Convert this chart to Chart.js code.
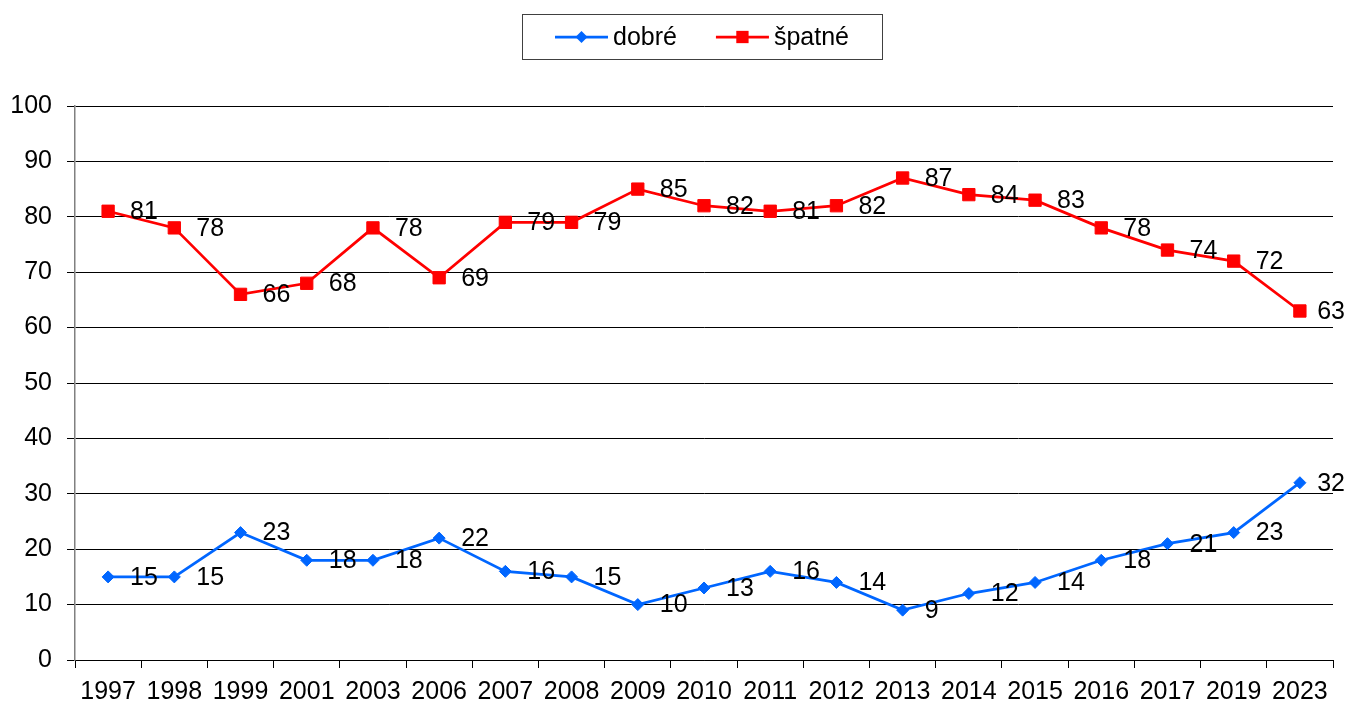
<!DOCTYPE html>
<html>
<head>
<meta charset="utf-8">
<script src="https://cdn.jsdelivr.net/npm/chart.js@4.4.1/dist/chart.umd.min.js"></script>
<style>
  body { margin: 0; background: #fff; }
  #wrap { width: 1347px; height: 702px; }
</style>
</head>
<body>
<div id="wrap"><canvas id="chart" width="1347" height="702"></canvas></div>
<script>
const years = ['1997', '1998', '1999', '2001', '2003', '2006', '2007', '2008', '2009', '2010',
               '2011', '2012', '2013', '2014', '2015', '2016', '2017', '2019', '2023'];
const dobre  = [15, 15, 23, 18, 18, 22, 16, 15, 10, 13, 16, 14, 9, 12, 14, 18, 21, 23, 32];
const spatne = [81, 78, 66, 68, 78, 69, 79, 79, 85, 82, 81, 82, 87, 84, 83, 78, 74, 72, 63];
const yMin = 0, yMax = 100, yStep = 10;

const FONT = '"Liberation Sans", Arial, sans-serif';
const BLUE = '#0066ff';
const RED = '#ff0000';

function drawMarker(ctx, style, x, y, r, color) {
  ctx.fillStyle = color;
  ctx.beginPath();
  if (style === 'rect') {
    const s = r * Math.SQRT1_2;
    ctx.rect(x - s, y - s, 2 * s, 2 * s);
  } else {
    ctx.moveTo(x, y - r);
    ctx.lineTo(x + r, y);
    ctx.lineTo(x, y + r);
    ctx.lineTo(x - r, y);
    ctx.closePath();
  }
  ctx.fill();
}

// numbers to the right of every point
const valueLabels = {
  id: 'valueLabels',
  afterDatasetsDraw(chart) {
    const ctx = chart.ctx;
    ctx.save();
    ctx.font = '25px ' + FONT;
    ctx.fillStyle = '#000';
    ctx.textAlign = 'left';
    ctx.textBaseline = 'middle';
    chart.data.datasets.forEach((ds, i) => {
      chart.getDatasetMeta(i).data.forEach((pt, j) => {
        const txt = String(ds.data[j]);
        const w = ctx.measureText(txt).width;
        let x = pt.x + 22;
        if (x + w > chart.width - 2) x = chart.width - 2 - w;
        ctx.fillText(txt, x, pt.y + 1);
      });
    });
    ctx.restore();
  }
};

// framed legend above the plot
const boxedLegend = {
  id: 'boxedLegend',
  afterDraw(chart) {
    const ctx = chart.ctx;
    const area = chart.chartArea;
    const cx = (area.left + area.right) / 2 - 2;
    const cy = 37;
    const lineLen = 53, textGap = 5, gap = 39, pad = 33;
    ctx.save();
    ctx.font = '25px ' + FONT;
    ctx.textBaseline = 'middle';
    ctx.textAlign = 'left';
    const items = chart.data.datasets.map(ds => ({
      text: ds.label, color: ds.borderColor, style: ds.pointStyle, r: ds.pointRadius,
      w: lineLen + textGap + ctx.measureText(ds.label).width
    }));
    const total = items.reduce((a, it) => a + it.w, 0) + gap * (items.length - 1);
    let x = cx - total / 2;
    const left = Math.round(x - pad), right = Math.round(x + total + pad);
    ctx.strokeStyle = '#404040';
    ctx.lineWidth = 1;
    ctx.strokeRect(left + 0.5, 14.5, right - left, 45);
    items.forEach(it => {
      ctx.strokeStyle = it.color;
      ctx.lineWidth = 2.75;
      ctx.beginPath();
      ctx.moveTo(x, cy);
      ctx.lineTo(x + lineLen, cy);
      ctx.stroke();
      drawMarker(ctx, it.style, x + lineLen / 2, cy, it.r, it.color);
      ctx.fillStyle = '#000';
      ctx.fillText(it.text, x + lineLen + textGap, cy + 1);
      x += it.w + gap;
    });
    ctx.restore();
  }
};

new Chart(document.getElementById('chart'), {
  type: 'line',
  data: {
    labels: years,
    datasets: [
      {
        label: 'dobré',
        data: dobre,
        borderColor: BLUE,
        backgroundColor: BLUE,
        borderWidth: 2.75,
        pointStyle: 'rectRot',
        pointRadius: 6,
        pointBorderWidth: 1,
        pointBorderColor: BLUE,
        pointBackgroundColor: BLUE,
        tension: 0
      },
      {
        label: 'špatné',
        data: spatne,
        borderColor: RED,
        backgroundColor: RED,
        borderWidth: 2.75,
        pointStyle: 'rect',
        pointRadius: 8.7,
        pointBorderWidth: 1,
        pointBorderColor: RED,
        pointBackgroundColor: RED,
        tension: 0
      }
    ]
  },
  options: {
    responsive: false,
    animation: false,
    layout: { padding: { top: 106, right: 14, left: 0, bottom: 0 } },
    plugins: {
      legend: { display: false },
      tooltip: { enabled: false }
    },
    scales: {
      x: {
        offset: true,
        grid: {
          offset: true,
          drawOnChartArea: false,
          color: '#000',
          tickLength: 8
        },
        border: { color: '#000', width: 1 },
        ticks: {
          color: '#000',
          font: { family: FONT, size: 25 },
          padding: 9,
          maxRotation: 0,
          autoSkip: false
        },
        afterFit(s) { s.height = 42; }
      },
      y: {
        min: yMin,
        max: yMax,
        grid: { color: '#000', lineWidth: 1, tickLength: 8 },
        border: { color: '#808080', width: 1.5 },
        ticks: {
          stepSize: yStep,
          color: '#000',
          font: { family: FONT, size: 25 },
          padding: 15
        },
        afterFit(s) { s.width = 75; }
      }
    }
  },
  plugins: [valueLabels, boxedLegend]
});
</script>
</body>
</html>
